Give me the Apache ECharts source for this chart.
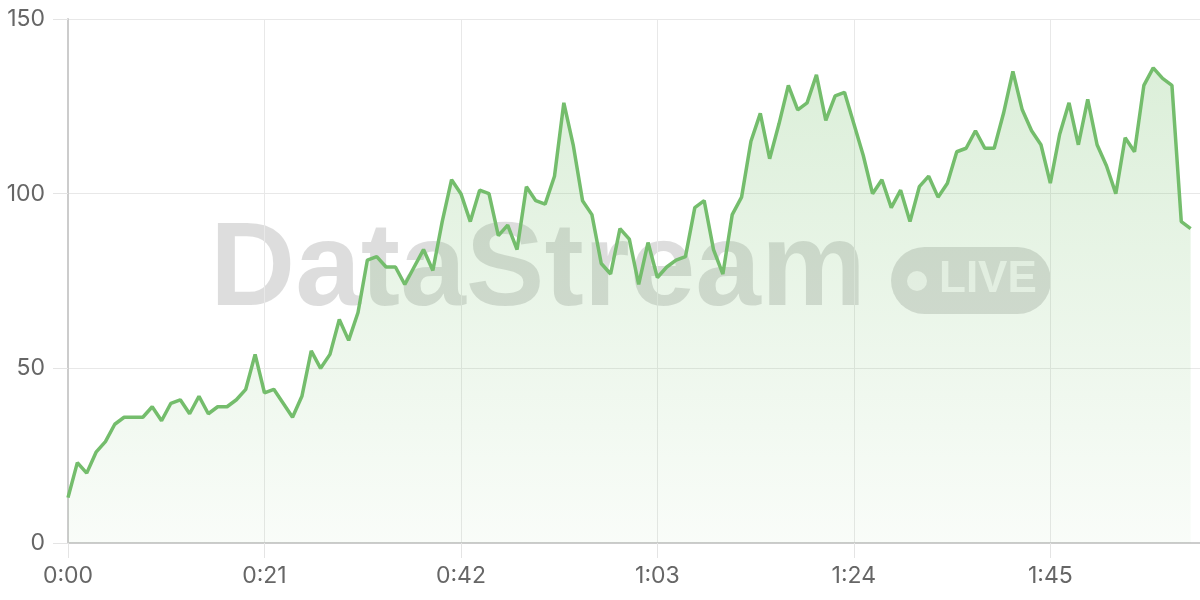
<!DOCTYPE html>
<html>
<head>
<meta charset="utf-8">
<style>html,body{margin:0;padding:0;background:#fff}#c{width:1200px;height:600px}</style>
<script src="https://cdn.jsdelivr.net/npm/echarts@6/dist/echarts.min.js"></script>
</head>
<body>
<div id="c"></div>
<script>
// seconds 0..121 as m:ss categories
const seconds = Array.from({length: 122}, (_, i) => i);
const categories = seconds.map(s => Math.floor(s / 60) + ':' + String(s % 60).padStart(2, '0'));
const values = [
  13,23,20,26,29,34,36,36,36,39,
  35,40,41,37,42,37,39,39,41,44,
  54,43,44,40,36,42,55,50,54,64,
  58,66,81,82,79,79,74,79,84,78,
  92,104,100,92,101,100,88,91,84,102,
  98,97,105,126,114,98,94,80,77,90,
  87,74,86,76,79,81,82,96,98,84,
  77,94,99,115,123,110,120,131,124,126,
  134,121,128,129,120,111,100,104,96,101,
  92,102,105,99,103,112,113,118,113,113,
  123,135,124,118,114,103,117,126,114,127,
  114,108,100,116,112,131,136,133,131,92,
  90
];
const yTicks = [0, 50, 100, 150];
const watermarkText = 'DataStream';
const badgeText = 'LIVE';

const chart = echarts.init(document.getElementById('c'), null, {renderer: 'canvas'});
const FONT = 'Inter, "Noto Sans", sans-serif';
const WM = '"Liberation Sans", Arial, sans-serif';
const option = {
  animation: false,
  backgroundColor: '#ffffff',
  grid: {left: 68, right: 0, top: 19, bottom: 57, containLabel: false},
  graphic: [
    {type: 'text', z: 0, left: 210, top: 213,
     style: {text: watermarkText, font: 'bold 118px ' + WM, fill: 'rgba(0,0,0,0.135)'}},
    {type: 'rect', z: 0, shape: {x: 891, y: 247, width: 160, height: 67, r: 33.5},
     style: {fill: 'rgba(0,0,0,0.135)'}},
    {type: 'circle', z: 1, shape: {cx: 917, cy: 281, r: 10},
     style: {fill: 'rgba(255,255,255,0.75)'}},
    {type: 'text', z: 1, left: 939, top: 258,
     style: {text: badgeText, font: 'bold 44px ' + WM, fill: 'rgba(255,255,255,0.75)'}}
  ],
  xAxis: {
    type: 'category',
    data: categories,
    boundaryGap: false,
    axisLine: {show: true, lineStyle: {color: '#cccccc', width: 2}},
    axisTick: {show: true, interval: 20, length: 15, lineStyle: {color: '#e4e4e4', width: 1}},
    axisLabel: {interval: 20, color: '#666666', fontSize: 23, fontFamily: FONT, margin: 22},
    splitLine: {show: true, interval: 20, lineStyle: {color: '#e8e8e8', width: 1}}
  },
  yAxis: {
    type: 'value',
    min: yTicks[0], max: yTicks[yTicks.length - 1], interval: 50,
    axisLine: {show: true, lineStyle: {color: '#cccccc', width: 2}},
    axisTick: {show: true, length: 15, lineStyle: {color: '#e4e4e4', width: 1}},
    axisLabel: {color: '#666666', fontSize: 23, fontFamily: FONT, margin: 23},
    splitLine: {show: true, lineStyle: {color: '#e8e8e8', width: 1}}
  },
  series: [{
    type: 'line',
    data: values,
    symbol: 'none',
    smooth: false,
    lineStyle: {color: '#74bd6c', width: 3.5},
    itemStyle: {color: '#74bd6c'},
    areaStyle: {
      color: new echarts.graphic.LinearGradient(0, 0, 0, 1, [
        {offset: 0, color: 'rgba(115,191,105,0.36)'},
        {offset: 1, color: 'rgba(115,191,105,0.06)'}
      ])
    }
  }]
};
chart.setOption(option);
</script>
</body>
</html>
